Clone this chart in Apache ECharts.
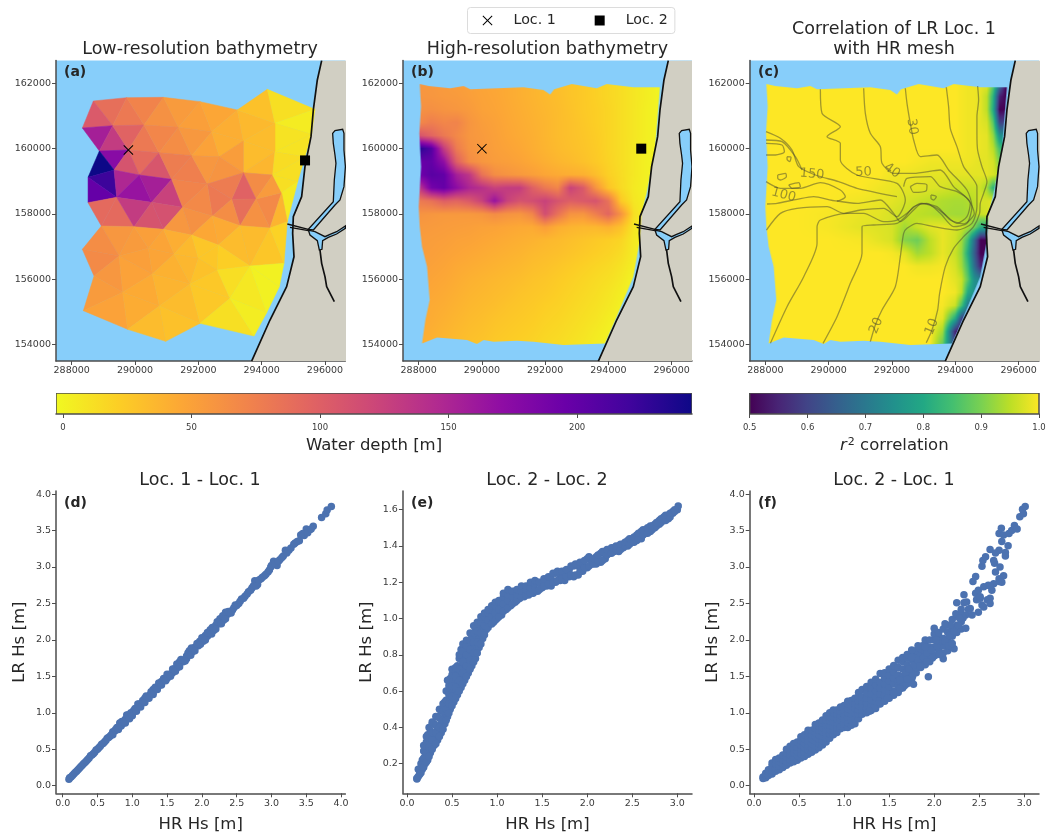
<!DOCTYPE html>
<html><head><meta charset="utf-8">
<style>html,body{margin:0;padding:0;background:#fff}#c{width:1047px;height:833px}</style>
<script src="https://cdn.jsdelivr.net/npm/echarts@6/dist/echarts.min.js"></script>
</head><body><div id="c"></div>
<script>
// ---------- tick labels ----------
const mapXTicks=[288000,290000,292000,294000,296000];
const mapYTicks=[154000,156000,158000,160000,162000];
const depthTicks=[0,50,100,150,200];
const r2Ticks=[0.5,0.6,0.7,0.8,0.9,1.0];
const hs4Ticks=[0,0.5,1,1.5,2,2.5,3,3.5,4];
const hs3Ticks=[0,0.5,1,1.5,2,2.5,3];
const hsYeTicks=[0.2,0.4,0.6,0.8,1.0,1.2,1.4,1.6];
// ---------- colour maps ----------
const plasma=['#0d0887','#41049d','#6a00a8','#8f0da4','#b12a90','#cc4778','#e16462','#f1844b','#fca636','#fcce25','#f0f921'];
const viridis=['#440154','#482475','#414487','#355f8d','#2a788e','#21918c','#22a884','#44bf70','#7ad151','#bddf26','#fde725'];
// ---------- locations ----------
const locLR=[[289790,159960],[295370,159640]];
const locHR=[[290000,160000],[295040,160000]];
// ---------- shoreline ----------
const coast=[[295895,162694],[295758,162102],[295632,161184],[295558,160367],[295368,159449],[295263,158531],[295000,157918],[294979,157408],[295021,156694],[294789,155776],[294263,154755],[293684,153500]];
const lagoon=[[296242,160469],[296316,160551],[296558,160592],[296600,160469],[296600,159959],[296645,159449],[296600,158837],[296474,158429],[296316,158276],[295632,157510],[295474,157531],[296263,158378],[296295,159041],[296347,159551],[296316,159806],[296263,160163]];
const estuary=[[295474,157510],[295684,157459],[296000,157306],[296158,157378],[296368,157459],[296645,157633],[296645,157561],[296368,157388],[296105,157286],[295926,157184],[295905,156918],[295821,156898],[295758,157184],[295526,157357]];
const jettyN=[[294810,157694],[295474,157531]];
const jettyS=[[294895,157592],[295474,157490]];
const river=[[295842,156898],[295895,156490],[296000,156082],[296053,155776],[296295,155316]];
// ---------- low resolution mesh ----------
const lrNodes={A:[288684,161459],B:[289737,161561],C:[290895,161571],D:[292053,161439],E:[293231,161184],F:[294179,161816],G:[295684,161204],
H:[288337,160633],I:[289295,160704],J:[290284,160724],K:[291368,160653],L:[292421,160520],M:[293421,160235],N:[294421,160776],O:[295579,160439],
P:[288874,159929],Q:[289789,159959],R:[290758,159878],S:[291789,159786],T:[292663,159755],V:[294421,159908],W:[295368,159755],
X:[288516,159122],Y:[289337,159347],Z:[290137,159194],AA:[291158,159061],BB:[292284,158918],CC:[293421,159265],DD:[294347,159194],EE:[295137,158990],
FF:[288516,158347],GG:[289421,158510],HH:[290526,158357],II:[291505,158204],JJ:[292442,157939],KK:[293053,158449],LL:[293821,158459],MM:[294631,158653],NN:[294810,157765],
OO:[288937,157633],PP:[289968,157612],QQ:[290895,157531],RR:[291789,157357],SS:[292631,157051],TT:[293316,157643],UU:[294263,157571],
WW:[288337,156918],XX:[289495,156714],YY:[290421,156949],ZZ:[291232,156776],AB:[292000,156643],AD:[293632,156408],AE:[294705,156490],
AF:[288705,156102],AG:[289611,155602],AH:[290547,156163],AI:[291737,155857],AJ:[292600,156286],AK:[293000,155418],AL:[294158,154980],AM:[294558,155776],
AN:[288368,155041],AO:[289768,154469],AP:[290768,155184],AQ:[292053,154653],AR:[293758,154265],AS:[290968,154102]};
const lrTriangles=[['A','B','I',88],['A','I','H',105],['B','J','I',80],['B','C','J',72],['C','K','J',62],['C','D','K',55],['D','L','K',52],['D','E','L',47],['E','M','L',42],['E','N','M',35],['E','F','N',30],['F','G','N',12],['N','G','O',5],['N','O','V',10],['N','V','M',33],
['H','I','P',155],['I','Q','P',130],['I','J','Q',97],['J','R','Q',80],['J','K','R',70],['K','S','R',65],['K','L','S',57],['L','T','S',50],['L','M','T',42],['M','V','CC',33],['V','DD','CC',37],['M','CC','T',53],['V','O','W',10],['V','W','DD',14],['W','EE','DD',12],
['P','Q','Y',175],['P','Y','X',245],['Q','R','Z',92],['Q','Z','Y',110],['R','AA','Z',108],['R','S','AA',77],['S','BB','AA',75],['S','T','BB',58],['T','CC','BB',60],
['X','Y','GG',222],['X','GG','FF',198],['Y','Z','GG',148],['Z','HH','GG',165],['Z','AA','HH',155],['AA','II','HH',125],['AA','BB','II',72],['CC','DD','LL',66],['CC','LL','KK',98],['CC','KK','BB',78],['BB','KK','JJ',80],['BB','JJ','II',68],['KK','LL','TT',88],['KK','TT','JJ',65],['LL','MM','UU',68],['LL','UU','TT',62],['DD','MM','LL',55],['DD','EE','MM',12],['MM','EE','NN',6],['MM','NN','UU',38],
['FF','GG','OO',92],['GG','PP','OO',92],['GG','HH','PP',130],['HH','QQ','PP',110],['HH','II','QQ',112],['II','RR','QQ',58],['II','JJ','RR',62],['JJ','SS','RR',46],['JJ','TT','SS',44],['TT','AD','SS',33],['TT','UU','AD',34],['UU','AE','AD',27],['UU','NN','AE',20],
['OO','PP','XX',58],['OO','XX','WW',65],['PP','YY','XX',55],['PP','QQ','YY',52],['QQ','ZZ','YY',48],['QQ','RR','ZZ',42],['RR','AB','ZZ',35],['RR','SS','AB',27],['SS','AJ','AB',27],['SS','AD','AJ',22],
['WW','XX','AF',67],['XX','AG','AF',58],['XX','AH','AG',50],['XX','YY','AH',52],['YY','ZZ','AH',48],['ZZ','AI','AH',40],['ZZ','AB','AI',36],['AB','AJ','AI',30],['AJ','AK','AI',26],['AJ','AD','AK',13],['AD','AL','AK',7],['AD','AM','AL',2],['AD','AE','AM',2],
['AF','AG','AN',55],['AG','AO','AN',50],['AG','AP','AO',43],['AG','AH','AP',44],['AH','AI','AP',38],['AP','AI','AQ',33],['AP','AQ','AS',30],['AO','AP','AS',33],['AI','AK','AQ',26],['AQ','AK','AR',12],['AK','AL','AR',4]];
// ---------- high resolution mesh ----------
const hrOutline=[[288032,161980],[288316,161918],[289000,161847],[289421,161918],[289632,161816],[290474,161847],[291316,161878],[291947,161796],[292158,161653],[292284,161816],[292842,161980],[293632,161847],[293947,161980],[294790,161878],[295632,161878],[295474,159959],[295211,158633],[295053,158020],[295000,157204],[294790,156082],[294263,154857],[293895,154041],[292579,153990],[291632,154092],[291105,154122],[290368,154092],[290053,154143],[289842,154020],[289526,154143],[288579,154225],[288105,154041],[288210,154757],[288347,155367],[288263,156388],[288105,157000],[288032,157612],[288000,158225],[288074,159449],[288020,160469],[288074,161286]];
const hrX=[288000,288400,288800,289200,289600,290000,290400,290800,291200,291600,292000,292400,292800,293200,293600,294000,294400,294800,295200,295600];
const hrY=[162000,161600,161200,160800,160400,160000,159600,159200,158800,158400,158000,157600,157200,156800,156400,156000,155600,155200,154800,154400,154000];
const hrDepth=[
[58,57,55,53,51,48,46,44,41,38,35,31,28,25,21,17,13,8,4,0],
[59,58,56,55,52,49,47,44,41,38,35,32,28,25,21,17,13,8,4,0],
[62,63,60,58,55,50,48,45,42,39,36,33,29,25,22,18,13,8,3,0],
[68,76,70,72,59,53,50,46,43,40,37,33,30,26,22,18,13,8,3,0],
[110,95,80,68,58,55,51,47,44,41,37,33,30,27,23,18,13,8,3,0],
[235,210,130,78,60,56,52,49,46,42,38,34,31,28,24,18,13,7,2,0],
[195,200,170,100,66,58,54,52,49,45,41,37,34,30,25,19,13,7,2,0],
[190,205,200,155,135,85,65,60,56,52,47,44,42,40,32,21,14,7,2,0],
[130,188,198,172,150,140,125,130,130,100,80,70,125,105,60,28,15,6,1,0],
[78,85,100,95,105,125,165,125,110,115,125,110,100,105,110,85,25,8,2,0],
[60,58,56,56,56,58,65,60,58,70,115,85,60,58,75,95,60,12,1,0],
[56,55,54,53,52,50,49,47,45,44,52,42,38,36,36,40,30,8,0,0],
[54,53,52,50,49,47,45,43,41,39,36,34,31,28,25,22,18,6,0,0],
[53,52,50,48,46,44,42,40,38,35,33,31,28,25,22,19,14,5,0,0],
[52,50,48,45,43,41,39,37,35,32,30,27,24,21,18,15,10,3,0,0],
[50,48,46,43,40,38,36,34,32,29,27,24,21,18,15,12,7,0,0,0],
[48,46,44,41,38,36,34,32,29,27,25,22,19,16,13,9,4,0,0,0],
[46,44,42,39,36,34,32,29,27,25,22,20,17,14,11,7,2,0,0,0],
[45,43,40,37,34,32,29,27,25,23,20,18,15,12,9,4,0,0,0,0],
[43,41,38,35,32,30,27,25,23,21,18,16,13,10,6,2,0,0,0,0],
[41,39,36,33,30,28,25,23,21,19,16,14,11,8,4,1,0,0,0,0]];
// ---------- correlation ----------
const corX=[288000,289000,290000,291000,291600,292000,292400,292800,293200,293600,294000,294200,294400,294600,294800,295000,295200,295400,295600];
const corY=hrY;
const corR2=[
[1,1,1,1,1,1,1,1,1,1,1,.995,.99,.99,.985,.98,.88,.7,.5],
[1,1,1,1,1,1,1,1,1,1,1,.995,.99,.99,.98,.95,.82,.55,.5],
[1,1,1,1,1,1,1,1,1,1,1,.995,.99,.99,.98,.95,.8,.5,.5],
[1,1,1,1,1,1,1,1,1,1,1,.995,.99,.99,.98,.97,.87,.6,.6],
[1,1,1,1,1,1,1,1,1,1,1,.995,.99,.99,.985,.98,.92,.75,.75],
[1,1,1,1,1,1,1,1,1,1,1,.995,.99,.99,.985,.98,.95,.85,.85],
[1,1,1,1,1,1,1,.995,.99,.99,.99,.99,.99,.985,.98,.98,.97,.9,.9],
[1,1,1,1,1,.99,.99,.985,.98,.98,.98,.98,.98,.98,.98,.98,.97,.95,.95],
[1,1,1,1,.99,.985,.98,.98,.975,.97,.96,.96,.96,.96,.96,.93,.82,.9,.9],
[1,1,1,.99,.985,.98,.97,.96,.95,.94,.935,.935,.94,.95,.97,.97,.98,.98,.98],
[1,1,.995,.985,.98,.97,.96,.95,.945,.935,.93,.93,.935,.945,.96,.97,.98,.98,.98],
[1,1,.995,.98,.975,.97,.93,.96,.98,.985,.97,.96,.94,.9,.82,.8,.9,.9,.9],
[1,1,1,.995,.98,.97,.91,.89,.95,.985,.965,.93,.84,.68,.5,.5,.5,.5,.5],
[1,1,1,1,1,.995,.98,.93,.95,.985,.96,.92,.8,.65,.5,.5,.5,.5,.5],
[1,1,1,1,1,1,1,.99,.99,.995,.97,.93,.84,.68,.55,.55,.55,.55,.55],
[1,1,1,1,1,1,1,1,1,1,.98,.96,.87,.75,.72,.72,.72,.72,.72],
[1,1,1,1,1,1,1,1,1,1,.99,.95,.8,.75,.75,.75,.75,.75,.75],
[1,1,1,1,1,1,1,1,1,.995,.96,.85,.7,.7,.7,.7,.7,.7,.7],
[1,1,1,1,1,1,1,1,1,.98,.8,.6,.6,.6,.6,.6,.6,.6,.6],
[1,1,1,1,1,1,1,1,1,.93,.55,.5,.5,.5,.5,.5,.5,.5,.5],
[1,1,1,1,1,1,1,1,1,.88,.6,.5,.5,.5,.5,.5,.5,.5,.5]];
// ---------- depth contours ----------
const contour10=[[294705,161918],[294737,161490],[294684,160980],[294684,160469],[294705,159959],[294842,159449],[295000,158990],[294895,158633],[294789,158327],[294768,158020],[294579,157612],[294263,157306],[293947,156949],[293684,156388],[293505,155571],[293442,155061],[293263,154449],[293084,154061]];
const contour20=[[293716,161878],[293789,161286],[293842,160622],[294053,160061],[294263,159449],[294684,158837],[294684,158224],[294526,157714],[294053,157510],[293316,157612],[292789,157714],[292474,157561],[292368,157408],[292263,156694],[292105,155776],[291684,155061],[291474,154602],[291316,154092]];
const contour30=[[292421,161847],[292474,161388],[292579,160776],[292684,160265],[292895,159755],[293421,159806],[293789,159347],[294368,158735],[294526,158224],[294368,157714],[293947,157612],[293526,158020],[293105,158327],[292684,158224],[292421,157918],[292158,157714],[291421,157663],[291053,157612],[291053,156796],[290684,155878],[290263,154857],[289821,154041]];
const contour40=[[291105,161847],[291158,161082],[291316,160469],[291632,160061],[291684,159551],[292053,159245],[292684,159245],[293526,159347],[293947,158837],[294474,158327],[294368,157918],[294053,157714],[293632,158020],[293316,158224],[292895,158327],[292474,158020],[292158,157816],[291737,157765],[291105,158020],[290579,158020],[289737,157816],[289632,157612],[289632,157102],[289211,156082],[288684,155163],[288158,154041]];
const contour50=[[289737,161816],[289789,161082],[290368,160673],[289947,160367],[290368,160163],[290368,159653],[290895,159194],[292158,158939],[292421,158429],[292158,157918],[291737,158173],[291000,158122],[290474,158020],[289947,158224],[289000,158173],[288474,158020],[288032,157510]];
const contour100a=[[288020,158990],[288474,158786],[289105,158786],[289737,158959],[290368,158735],[290526,158531],[290263,158398],[289526,158531],[289000,158449],[288368,158327],[288053,158306]];
const contour100b=[[290263,158398],[290895,158327],[291632,158429],[292053,158020],[292263,157765],[292684,158122],[292947,158327],[293421,158224],[293842,157816],[294263,157694],[294600,158020],[294421,158429],[294053,158684],[293526,158837],[293211,159143],[292474,159092],[292368,158837]];
const contour150a=[[288020,160520],[288474,160316],[288842,159959],[289053,159449],[289579,159194],[290316,158990],[290895,158786],[292158,158531]];
const contour150b=[[288020,160265],[288526,160214],[288947,159755],[289158,159347]];
const loop1=[[288020,160163],[288526,160112],[288600,159908],[288316,159806],[288020,159806]];
const loop2=[[288389,159194],[288632,159245],[288663,159143],[288474,159041],[288389,159092],[288389,159194]];
const loop3=[[288737,158888],[289053,158959],[289105,158837],[288842,158786],[288737,158888]];
const loop4=[[288684,159755],[288811,159735],[288768,159602],[288684,159673],[288684,159755]];
const loop5=[[292579,158837],[292789,158939],[293105,158888],[293084,158714],[292684,158663],[292579,158837]];
const loop6=[[293232,158582],[293400,158531],[293316,158429],[293232,158480],[293232,158582]];
const contourLabels=[[292632,160673,'30',-82],[291105,159276,'50',3],[292000,159327,'40',-35],[289474,159214,'150',-5],[288579,158582,'100',-15],[291505,154582,'20',68],[293263,154551,'10',68]];
// ---------- wave heights ----------
const hsD=[[0.09,0.09],[0.12,0.12],[0.16,0.16],[0.2,0.2],[0.24,0.24],[0.28,0.28],[0.32,0.32],[0.36,0.36],[0.4,0.41],[0.44,0.44],[0.48,0.49],[0.52,0.52],[0.56,0.57],[0.6,0.6],[0.64,0.65],[0.68,0.68],[0.72,0.74],[0.75,0.75],[0.8,0.8],[0.82,0.86],[0.86,0.85],[0.9,0.91],[0.92,0.97],[0.95,0.94],[1,1],[1.02,1.03],[1.06,1.05],[1.08,1.12],[1.12,1.11],[1.16,1.14],[1.18,1.2],[1.22,1.21],[1.26,1.25],[1.3,1.28],[1.3,1.32],[1.35,1.34],[1.4,1.38],[1.42,1.43],[1.47,1.46],[1.5,1.47],[1.54,1.53],[1.58,1.55],[1.6,1.6],[1.65,1.62],[1.68,1.7],[1.73,1.7],[1.78,1.74],[1.78,1.78],[1.82,1.85],[1.87,1.84],[1.9,1.9],[1.95,1.92],[1.97,1.98],[2.02,1.98],[2.05,2.06],[2.08,2.05],[2.12,2.14],[2.17,2.13],[2.2,2.2],[2.25,2.22],[2.26,2.29],[2.31,2.27],[2.34,2.38],[2.37,2.35],[2.44,2.41],[2.48,2.48],[2.53,2.5],[2.57,2.56],[2.62,2.6],[2.67,2.66],[2.72,2.71],[2.76,2.81],[2.8,2.76],[2.85,2.84],[2.9,2.88],[2.95,2.93],[2.99,3.0],[3.03,3.08],[3.08,3.02],[3.12,3.1],[3.17,3.15],[3.2,3.23],[3.25,3.23],[3.32,3.31],[3.37,3.35],[3.42,3.44],[3.47,3.43],[3.5,3.52],[3.55,3.51],[3.6,3.56],[3.72,3.68],[3.78,3.73],[3.8,3.78],[3.86,3.83]];
const hsDExtra=[[.1,.11],[.14,.14],[.18,.18],[.22,.22],[.26,.26],[.3,.3],[.34,.34],[.38,.38],[.42,.42],[.46,.46],[.5,.5],[.54,.54],[.58,.58],[.62,.62],[.66,.66],[.7,.7],[.72,.7],[.76,.77],[.78,.8],[.8,.77],[.84,.82],[.85,.88],[.88,.88],[.9,.86],[.94,.97],[.96,.92],[.98,1.0],[1,.96],[1.04,1.06],[1.06,1.02],[1.1,1.12],[1.12,1.08],[1.15,1.17],[1.18,1.14],[1.2,1.23],[1.24,1.2],[1.27,1.29],[1.3,1.25],[1.33,1.35],[1.36,1.32],[1.38,1.41],[1.42,1.38],[1.45,1.47],[1.48,1.44],[1.5,1.53],[1.55,1.5],[1.58,1.6],[1.62,1.57],[1.64,1.67],[1.68,1.63],[1.7,1.73],[1.76,1.71],[1.8,1.82],[1.84,1.79],[1.85,1.89],[1.9,1.85],[1.93,1.95],[1.98,1.94],[2,2.03],[2.05,2.0],[2.08,2.1],[2.14,2.08],[2.15,2.17],[2.2,2.15],[2.22,2.25],[2.28,2.22],[2.3,2.33],[2.34,2.29],[2.38,2.39],[2.42,2.37],[2.46,2.44],[2.5,2.47],[2.55,2.53],[2.6,2.57],[2.65,2.63],[2.7,2.68],[2.74,2.74],[2.78,2.74],[2.82,2.82],[2.87,2.86],[2.92,2.9],[2.97,2.96],[3,3.02],[3.05,3.05],[3.1,3.08],[3.15,3.13],[3.22,3.19],[3.28,3.26],[3.34,3.33],[3.4,3.36],[3.45,3.46],[3.52,3.47],[3.57,3.52]];
const hsE=[[.11,[.115,.12]],[.14,[.14,.16]],[.17,[.17,.22]],[.2,[.2,.24,.29]],[.23,[.22,.28,.36]],[.26,[.26,.31,.38]],[.3,[.3,.35,.42]],[.34,[.33,.39,.46]],[.38,[.37,.42,.49]],[.42,[.42,.47,.54]],[.45,[.46,.52,.6,.66]],[.48,[.5,.55,.62,.67]],[.52,[.54,.6,.66,.72]],[.56,[.58,.64,.7,.74]],[.6,[.62,.68,.74,.8,.83]],[.64,[.66,.72,.78,.84]],[.68,[.7,.76,.82,.87]],[.72,[.74,.79,.85,.9]],[.76,[.78,.84,.9,.93]],[.8,[.84,.9,.96]],[.84,[.89,.94,1.0]],[.88,[.94,.98,1.02]],[.92,[.97,1.01,1.04]],[.96,[.98,1.02,1.06]],[1,[1,1.04,1.08]],[1.05,[1.02,1.07,1.1]],[1.1,[1.05,1.09,1.13]],[1.15,[1.07,1.12,1.14]],[1.2,[1.09,1.13,1.15]],[1.25,[1.11,1.15]],[1.3,[1.12,1.15,1.17]],[1.35,[1.13,1.17]],[1.4,[1.14,1.18,1.19]],[1.45,[1.15,1.2]],[1.5,[1.17,1.2]],[1.55,[1.18,1.22]],[1.6,[1.18,1.22]],[1.65,[1.2,1.25]],[1.7,[1.21,1.24]],[1.75,[1.21,1.26]],[1.8,[1.23,1.27]],[1.85,[1.23,1.29]],[1.9,[1.24,1.29]],[1.95,[1.26,1.3]],[2,[1.28,1.33]],[2.05,[1.3,1.32]],[2.1,[1.3,1.34]],[2.15,[1.31,1.36]],[2.2,[1.33,1.37]],[2.25,[1.36,1.38]],[2.3,[1.37,1.39]],[2.35,[1.37,1.4]],[2.4,[1.39,1.41]],[2.45,[1.4,1.43]],[2.5,[1.42,1.44]],[2.55,[1.43,1.46]],[2.6,[1.44,1.48]],[2.65,[1.47,1.49]],[2.7,[1.48,1.51]],[2.75,[1.5,1.52]],[2.8,[1.52,1.54]],[2.85,[1.54,1.56]],[2.9,[1.55,1.57]],[2.95,[1.58,1.59]],[3,[1.6]],[3.01,[1.62]]];
const hsEExtra=[[.125,[.13,.17]],[.155,[.15,.2]],[.185,[.18,.23,.27,.3]],[.215,[.21,.26,.32,.35]],[.245,[.24,.29,.34,.4]],[.28,[.28,.33,.37,.42,.43]],[.32,[.31,.37,.41,.46]],[.36,[.35,.4,.45,.5]],[.4,[.39,.44,.49,.53]],[.435,[.44,.5,.55,.6]],[.465,[.48,.53,.58,.63,.66]],[.5,[.52,.57,.63,.69,.72]],[.54,[.56,.62,.68,.73]],[.58,[.6,.66,.72,.78,.8]],[.62,[.64,.7,.76,.82,.86]],[.66,[.68,.74,.8,.85,.88]],[.7,[.72,.77,.83,.88,.92]],[.74,[.76,.81,.87,.92,.96]],[.78,[.81,.87,.93,.98]],[.82,[.86,.92,.98,1.01]],[.86,[.91,.96,1.01,1.03]],[.9,[.95,.99,1.03,1.05]],[.94,[.97,1.01,1.05,1.07]],[.98,[.99,1.03,1.07,1.09]],[1.02,[1.01,1.05,1.09,1.1]],[1.07,[1.04,1.08,1.12,1.14]],[1.12,[1.06,1.1,1.13,1.16]],[1.17,[1.08,1.12,1.15]],[1.22,[1.1,1.13,1.16]],[1.27,[1.12,1.15,1.18]],[1.32,[1.13,1.16,1.18]],[1.37,[1.14,1.17,1.2]],[1.42,[1.16,1.19,1.21]],[1.47,[1.16,1.2]],[1.52,[1.18,1.22]],[1.57,[1.19,1.23]],[1.62,[1.2,1.25]],[1.67,[1.21,1.26]],[1.72,[1.22,1.26]],[1.77,[1.23,1.27]],[1.82,[1.24,1.29]],[1.87,[1.24,1.3]],[1.92,[1.26,1.31]],[1.97,[1.28,1.32]],[2.02,[1.29,1.34]],[2.07,[1.3,1.33]],[2.12,[1.32,1.35]],[2.17,[1.32,1.37]],[2.22,[1.35,1.38]],[2.27,[1.36,1.39]],[2.32,[1.38,1.4]],[2.37,[1.38,1.41]],[2.42,[1.4,1.42]],[2.47,[1.41,1.44]],[2.52,[1.42,1.45]],[2.57,[1.44,1.47]],[2.62,[1.46,1.49]],[2.67,[1.47,1.5]],[2.72,[1.49,1.51]],[2.77,[1.51,1.53]],[2.82,[1.53,1.55]],[2.87,[1.54,1.57]],[2.92,[1.56,1.58]],[2.97,[1.59,1.6]]];
const hsF=[[.1,[.1,.12]],[.13,[.11,.15,.17]],[.16,[.14,.19,.22]],[.2,[.16,.21,.27,.31]],[.24,[.2,.24,.3,.36]],[.28,[.22,.27,.33,.38]],[.32,[.25,.3,.36,.42]],[.36,[.28,.33,.39,.45,.5]],[.4,[.31,.36,.42,.48,.54]],[.44,[.33,.39,.45,.51,.58]],[.48,[.35,.41,.47,.53,.6]],[.52,[.38,.44,.5,.56,.62,.67]],[.56,[.4,.46,.52,.58,.64,.7]],[.6,[.43,.49,.55,.61,.67,.73,.76]],[.64,[.46,.52,.58,.64,.7,.76]],[.68,[.49,.55,.61,.67,.73,.79,.84]],[.72,[.52,.58,.64,.7,.76,.82,.86]],[.76,[.56,.62,.68,.74,.8,.86,.9]],[.8,[.6,.66,.72,.78,.84,.9,.96]],[.84,[.65,.71,.77,.83,.89,.95,1]],[.88,[.7,.76,.82,.88,.94,1,1.04]],[.92,[.73,.8,.86,.92,.98,1.04]],[.96,[.78,.82,.9,.96,1.02,1.08]],[1,[.8,.85,.92,.98,1.04,1.1]],[1.04,[.8,.86,.94,1,1.06,1.12,1.16]],[1.08,[.83,.9,.98,1.04,1.1,1.17]],[1.12,[.85,.92,1,1.06,1.12,1.2]],[1.16,[.92,.98,1.04,1.1,1.16,1.22,1.28]],[1.2,[.98,1.04,1.1,1.16,1.22,1.32]],[1.25,[1,1.06,1.14,1.2,1.28,1.36]],[1.3,[1.03,1.1,1.18,1.26,1.34,1.42]],[1.35,[1.06,1.14,1.22,1.3,1.38,1.46]],[1.4,[1.12,1.18,1.26,1.34,1.42,1.54]],[1.45,[1.16,1.24,1.32,1.4,1.48,1.55]],[1.5,[1.2,1.28,1.36,1.44,1.52,1.6]],[1.55,[1.24,1.3,1.4,1.48,1.56,1.65]],[1.6,[1.28,1.36,1.44,1.52,1.62,1.72]],[1.65,[1.34,1.42,1.5,1.6,1.7,1.76]],[1.7,[1.4,1.48,1.56,1.66,1.75,1.8]],[1.75,[1.46,1.54,1.62,1.72,1.8]],[1.8,[1.55,1.62,1.7,1.78,1.85]],[1.85,[1.62,1.7,1.8,1.88]],[1.9,[1.66,1.74,1.84,1.94,2]],[1.95,[1.7,1.8,1.9,2]],[2,[1.78,1.9,2,2.08]],[2.05,[1.85,1.95,2.05,2.1]],[2.1,[1.82,1.92,2.02,2.15]],[2.15,[1.85,2,2.1,2.2]],[2.2,[1.9,2.05,2.15,2.28]],[2.25,[2.1,2.2,2.33]],[2.3,[2.15,2.25,2.35]]];
const hsFSparse=[[1.935,1.495],[1.77,1.39],[1.67,1.37],[2.1,1.74],[2.01,1.79],[2.22,1.88],[2.35,2.16],[2,2.16],[1.75,1.86],[2.33,2.51],[2.25,2.51],[2.33,2.62],[2.43,2.8],[2.46,2.87],[2.53,3.01],[2.54,3.09],[2.57,3.14],[2.62,3.24],[2.66,3.09],[2.67,3.05],[2.73,3],[2.79,3.2],[2.79,3.15],[2.82,3.29],[2.72,3.46],[2.745,3.53],[2.77,3.44],[2.75,3.35],[2.72,3.23],[2.68,3.19],[2.83,3.46],[2.86,3.5],[2.89,3.57],[2.92,3.52],[2.95,3.69],[2.99,3.73],[2.98,3.79],[3.01,3.83],[2.36,2.52],[2.4,2.43],[2.35,2.34],[2.42,2.34],[2.47,2.55],[2.51,2.57],[2.46,2.64],[2.49,2.68],[2.55,2.73],[2.6,2.75],[2.64,2.68],[2.66,2.77],[2.72,2.8],[2.77,2.88],[2.68,2.93],[2.72,2.84],[2.53,2.48],[2.59,2.55],[2.62,2.57],[2.49,2.38],[2.55,2.45],[2.62,2.5],[2.51,2.59],[2.75,2.79],[2.62,2.74]];
const hsFExtra=[[1.62,1.45],[1.68,1.55],[1.72,1.6],[1.78,1.66],[1.82,1.72],[1.88,1.76],[1.92,1.82],[1.97,1.86],[2.03,1.92],[2.07,1.98],[2.12,1.98],[2.17,2.06],[2.22,2.12],[2.27,2.2],[2.32,2.3],[2.18,2.2],[2.12,2.22],[2.24,2.36],[2.3,2.42],[2.28,2.3],[2.38,2.42],[2.02,2],[1.87,1.92],[1.82,1.92],[1.75,1.76],[1.9,1.9],[2.06,1.8],[2.16,1.92],[2.2,1.95],[1.98,1.75],[1.92,1.7],[1.84,1.64],[1.76,1.5],[1.7,1.46],[1.62,1.33],[1.55,1.27],[1.48,1.2],[1.38,1.12],[1.33,1.07],[1.28,1.02]];

// ---------- helpers ----------
const FONT='"DejaVu Sans"', INK='#262626', TICK='#3a3a3a', SPINE='#4d4d4d', DOT='#4c72b0';
const CROSS='path://M0 .7L.7 0L5 4.3L9.3 0L10 .7L5.7 5L10 9.3L9.3 10L5 5.7L.7 10L0 9.3L4.3 5Z';
const SQUARE='path://M0 0H10V10H0Z';
function hex(c){return [1,3,5].map(i=>parseInt(c.substr(i,2),16));}
function cmapRGB(stops,t){t=Math.max(0,Math.min(1,t));const p=t*(stops.length-1),i=Math.min(stops.length-2,Math.floor(p)),f=p-i,a=hex(stops[i]),b=hex(stops[i+1]);return a.map((v,k)=>Math.round(v+(b[k]-v)*f));}
function depthRGB(d){return cmapRGB(plasma,1-(d+2.7)/247.4);}
function r2RGB(r){return cmapRGB(viridis,(r-0.5)/0.5);}
const css=c=>`rgb(${c[0]},${c[1]},${c[2]})`;
function flat(cols){const o=[];cols.forEach(c=>c[1].forEach(y=>o.push([c[0],y])));return o;}
function locate(a,v){const asc=a[1]>a[0];let i=0;while(i<a.length-2&&(asc?a[i+1]<=v:a[i+1]>=v))i++;let t=(v-a[i])/(a[i+1]-a[i]);return [i,Math.max(0,Math.min(1,t))];}
const FX0=287900,FX1=295800,FY0=153900,FY1=162100;
function fieldCanvas(xs,ys,rows,colour,outline){
  const W=250,H=268,cv=document.createElement('canvas');cv.width=W;cv.height=H;
  const ctx=cv.getContext('2d'),img=ctx.createImageData(W,H);
  for(let py=0;py<H;py++){const y=FY1-(py+.5)/H*(FY1-FY0),[j,v]=locate(ys,y);
    for(let px=0;px<W;px++){const x=FX0+(px+.5)/W*(FX1-FX0),[i,u]=locate(xs,x);
      const val=(1-v)*((1-u)*rows[j][i]+u*rows[j][i+1])+v*((1-u)*rows[j+1][i]+u*rows[j+1][i+1]);
      const c=colour(val),k=(py*W+px)*4;img.data[k]=c[0];img.data[k+1]=c[1];img.data[k+2]=c[2];img.data[k+3]=255;}}
  ctx.putImageData(img,0,0);
  ctx.globalCompositeOperation='destination-in';ctx.beginPath();
  outline.forEach((p,n)=>{const X=(p[0]-FX0)/(FX1-FX0)*W,Y=(FY1-p[1])/(FY1-FY0)*H;n?ctx.lineTo(X,Y):ctx.moveTo(X,Y);});
  ctx.closePath();ctx.fill();return cv;
}
function polySeries(g,polys,styleFn,z){
  return {type:'custom',xAxisIndex:g,yAxisIndex:g,clip:true,silent:true,z:z,animation:false,data:polys.map((p,i)=>[p.pts[0][0],p.pts[0][1],i]),
    renderItem:(params,api)=>{const p=polys[api.value(2)];return {type:'polygon',shape:{points:p.pts.map(q=>api.coord(q))},style:styleFn(p)};}};
}
function lineSeries(g,pts,color,width,z,smooth){
  return {type:'line',xAxisIndex:g,yAxisIndex:g,data:pts,symbol:'none',silent:true,z:z,smooth:smooth||false,animation:false,lineStyle:{color:color,width:width},clip:true};
}
function imageSeries(g,cv){
  return {type:'custom',xAxisIndex:g,yAxisIndex:g,clip:true,silent:true,z:2,animation:false,data:[[FX0,FY1,FX1,FY0]],
    renderItem:(params,api)=>{const a=api.coord([api.value(0),api.value(1)]),b=api.coord([api.value(2),api.value(3)]);
      return {type:'image',style:{image:cv,x:a[0],y:a[1],width:b[0]-a[0],height:b[1]-a[1]}};}};
}
function mapBase(g){
  const land={pts:coast.concat([[296700,153500],[296700,162700]])};
  return [polySeries(g,[land],()=>({fill:'#d1cfc3'}),1),
    polySeries(g,[{pts:lagoon},{pts:estuary}],()=>({fill:'#87cefa',stroke:'#111',lineWidth:1.3}),4),
    lineSeries(g,coast,'#111',1.7,5),lineSeries(g,jettyN,'#111',1.4,5),lineSeries(g,jettyS,'#111',1.4,5),lineSeries(g,river,'#111',1.7,5)];
}
function axis(g,min,max,ticks,fmt,fs,extra,margin){
  return Object.assign({type:'value',gridIndex:g,min:min,max:max,splitLine:{show:false},
    axisLine:{show:true,onZero:false,lineStyle:{color:SPINE,width:1.5}},
    axisTick:{show:true,length:4,customValues:ticks,lineStyle:{color:SPINE,width:1}},
    axisLabel:{customValues:ticks,formatter:fmt,fontSize:fs,color:TICK,fontFamily:FONT,margin:margin||5}},extra||{});
}
const nameStyle={fontSize:16.5,color:INK,fontFamily:FONT};
const f0=v=>String(Math.round(v)), f1=v=>v.toFixed(1);
function titleAt(text,cx,top,size,bold){return {text:text,left:cx,top:top,textAlign:'center',padding:0,textStyle:{fontSize:size,fontWeight:bold?'bold':'normal',color:INK,fontFamily:FONT,lineHeight:20}};}
function tag(text,x,y){return {text:text,left:x,top:y,padding:0,textStyle:{fontSize:14,fontWeight:'bold',color:INK,fontFamily:FONT}};}

// ---------- assemble ----------
const lrPolys=lrTriangles.map(t=>({pts:[lrNodes[t[0]],lrNodes[t[1]],lrNodes[t[2]]],d:t[3]}));
const grids=[[56,60.5,289.4,300.5],[403,60.5,289,300.5],[749.7,60.5,289.3,300.5],[56,393,636,21],[749.7,393,289.3,21],[56,491,289.4,302.3],[402.9,491,289.1,302.3],[749.7,491,289.3,302.3]];
const grid=grids.map((g,i)=>({left:g[0],top:g[1],width:g[2],height:g[3],containLabel:false,outerBoundsMode:'none',show:i<3,backgroundColor:'#87cefa',borderWidth:0}));
const XMIN=287504,XMAX=296645,YMIN=153501,YMAX=162698;
const xName=t=>({name:t,nameLocation:'middle',nameGap:23,nameTextStyle:nameStyle});
const xAxis=[
  axis(0,XMIN,XMAX,mapXTicks,f0,9.5),axis(1,XMIN,XMAX,mapXTicks,f0,9.5),axis(2,XMIN,XMAX,mapXTicks,f0,9.5),
  axis(3,-2.7,244.7,depthTicks,f0,8.5,{name:'Water depth [m]',nameLocation:'middle',nameGap:23,nameTextStyle:nameStyle},9),
  axis(4,0.5,1.0,r2Ticks,f1,8.5,{name:'{i|r}{s|2} correlation',nameLocation:'middle',nameGap:23,nameTextStyle:Object.assign({},nameStyle,{rich:{i:{fontStyle:'italic',fontSize:16.5,color:INK,fontFamily:FONT},s:{fontSize:11,color:INK,fontFamily:FONT,verticalAlign:'top',padding:[0,0,6,1]}}})},9),
  axis(5,-.096,4.062,hs4Ticks,f1,9.5,xName('HR Hs [m]')),
  axis(6,-.0455,3.163,hs3Ticks,f1,9.5,xName('HR Hs [m]')),
  axis(7,-.048,3.163,hs3Ticks,f1,9.5,xName('HR Hs [m]'))];
const yHide={type:'value',min:0,max:1,axisLine:{show:false},axisTick:{show:false},axisLabel:{show:false},splitLine:{show:false}};
const yName={name:'LR Hs [m]',nameLocation:'middle',nameGap:28,nameTextStyle:nameStyle};
const yAxis=[
  axis(0,YMIN,YMAX,mapYTicks,f0,9.5),axis(1,YMIN,YMAX,mapYTicks,f0,9.5),axis(2,YMIN,YMAX,mapYTicks,f0,9.5),
  Object.assign({gridIndex:3},yHide),Object.assign({gridIndex:4},yHide),
  axis(5,-.104,4.042,hs4Ticks,f1,9.5,yName),
  axis(6,.0368,1.703,hsYeTicks,f1,9.5,yName),
  axis(7,-.104,4.042,hs4Ticks,f1,9.5,yName)];
function barSeries(g,x0,x1,stops,rev){
  const list=rev?stops.slice().reverse():stops;
  return {type:'custom',xAxisIndex:g,yAxisIndex:g,clip:true,silent:true,animation:false,data:[[x0,0,x1,1]],z:2,
    renderItem:(params,api)=>{const a=api.coord([api.value(0),api.value(3)]),b=api.coord([api.value(2),api.value(1)]);
      return {type:'rect',shape:{x:a[0],y:a[1],width:b[0]-a[0],height:b[1]-a[1]},
        style:{fill:new echarts.graphic.LinearGradient(0,0,1,0,list.map((c,i)=>({offset:i/(list.length-1),color:c}))),stroke:SPINE,lineWidth:1.5}};}};
}
function scatter(g,pts,name){return {type:'scatter',xAxisIndex:g,yAxisIndex:g,data:pts,symbol:'circle',symbolSize:7.5,itemStyle:{color:DOT,opacity:1},silent:true,animation:false,z:3,name:name};}
function marker(g,pt,name,sym,size){return {type:'scatter',name:name,xAxisIndex:g,yAxisIndex:g,data:[pt],symbol:sym,symbolSize:size,itemStyle:{color:'#000',opacity:1},silent:true,animation:false,z:8};}
const CONT='rgba(72,72,48,0.5)';
const contourLines=[contour10,contour20,contour30,contour40,contour50,contour100a,contour100b,contour150a,contour150b,loop1,loop2,loop3,loop4,loop5,loop6];
const series=[
  ...mapBase(0),polySeries(0,lrPolys,p=>{const c=css(depthRGB(p.d));return {fill:c,stroke:c,lineWidth:.5};},2),marker(0,locLR[0],'Loc. 1',CROSS,10),marker(0,locLR[1],'Loc. 2',SQUARE,10),
  ...mapBase(1),imageSeries(1,fieldCanvas(hrX,hrY,hrDepth,depthRGB,hrOutline)),marker(1,locHR[0],'Loc. 1',CROSS,10),marker(1,locHR[1],'Loc. 2',SQUARE,10),
  ...mapBase(2),imageSeries(2,fieldCanvas(corX,corY,corR2,r2RGB,hrOutline)),
  ...contourLines.map(c=>lineSeries(2,c,CONT,1.3,6,0.25)),
  {type:'custom',xAxisIndex:2,yAxisIndex:2,silent:true,z:7,animation:false,data:contourLabels.map((l,i)=>[l[0],l[1],i]),
   renderItem:(params,api)=>{const l=contourLabels[api.value(2)],p=api.coord([l[0],l[1]]);
     return {type:'text',x:p[0],y:p[1],rotation:l[3]*Math.PI/180,style:{text:l[2],fill:'rgba(72,72,48,0.55)',fontSize:13,fontFamily:FONT,align:'center',verticalAlign:'middle'}};}},
  barSeries(3,-2.7,244.7,plasma,true),barSeries(4,0.5,1.0,viridis,false),
  scatter(5,hsD.concat(hsDExtra)),scatter(6,flat(hsE).concat(flat(hsEExtra))),scatter(7,flat(hsF).concat(hsFSparse,hsFExtra))
];
const title=[
  titleAt('Low-resolution bathymetry',200,39,17.5),titleAt('High-resolution bathymetry',547.5,39,17.5),
  titleAt('Correlation of LR Loc. 1\nwith HR mesh',894,19,17.5),
  titleAt('Loc. 1 - Loc. 1',200,470,17.5),titleAt('Loc. 2 - Loc. 2',547,470,17.5),titleAt('Loc. 2 - Loc. 1',894,470,17.5),
  tag('(a)',64,65),tag('(b)',411,65),tag('(c)',758,65),tag('(d)',64,496),tag('(e)',411,496),tag('(f)',758,496)];
const chart=echarts.init(document.getElementById('c'),null,{renderer:'canvas',width:1047,height:833});
chart.setOption({animation:false,backgroundColor:'#fff',textStyle:{fontFamily:FONT},title,grid,xAxis,yAxis,series,
  legend:{left:467.5,top:7.5,padding:[6,7,6,15],itemGap:39,itemWidth:10,itemHeight:10,selectedMode:false,borderColor:'#dcdcdc',borderWidth:1,borderRadius:3,backgroundColor:'#fff',
    textStyle:{fontSize:14.2,color:INK,fontFamily:FONT,padding:[0,0,0,16]},
    data:[{name:'Loc. 1',icon:CROSS},{name:'Loc. 2',icon:SQUARE}]}});
</script></body></html>
